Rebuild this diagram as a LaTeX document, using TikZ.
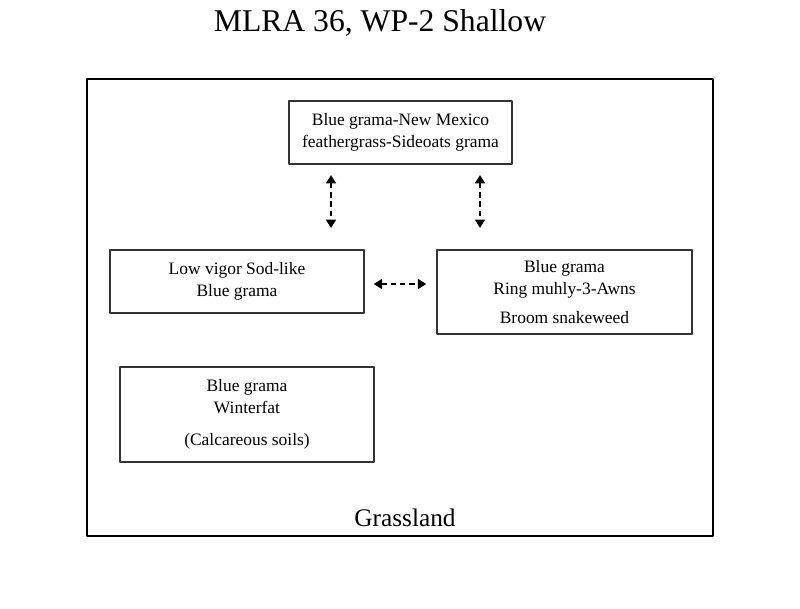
\documentclass[tikz,border=0pt]{standalone}
\usepackage{fontspec}
\setmainfont{Liberation Serif}
\usepackage{tikz}
\usetikzlibrary{arrows.meta}
\newcommand{\BoxColor}{black!80}

\begin{document}
\begin{tikzpicture}[line cap=round,line join=round,x=0.025cm,y=-0.025cm,
  state/.style={draw=\BoxColor,line width=0.9pt,align=center,inner sep=0pt,
    font=\fontsize{12.4}{15.5}\selectfont},
  trans/.style={{Triangle[length=6pt,width=7pt]}-{Triangle[length=6pt,width=7pt]},
    line width=1.7pt,line cap=butt,dash pattern=on 3.8pt off 2.8pt}]
  \useasboundingbox (0,0) rectangle (800,608);
  \node (title) at (380,23) {\fontsize{22.5}{26}\selectfont MLRA 36, WP-2 Shallow};
  \draw [line width=1.9pt] (87,79) rectangle (713,536);
  \node (grass) at (405,518) {\fontsize{18}{21}\selectfont Grassland};
  \node [state,minimum width=5.575cm,minimum height=1.575cm] (top) at (400.5,132.5)
    {Blue grama-New Mexico\\feathergrass-Sideoats grama};
  \node [state,minimum width=6.35cm,minimum height=1.575cm] (sod) at (237,281.5)
    {Low vigor Sod-like\\Blue grama};
  \node [state,minimum width=6.375cm,minimum height=2.1cm] (ring) at (564.5,292)
    {Blue grama\\Ring muhly-3-Awns\\[5pt]Broom snakeweed};
  \node [state,minimum width=6.35cm,minimum height=2.375cm] (winter) at (247,414.5)
    {Blue grama\\Winterfat\\[7pt](Calcareous soils)};
  % transition arrows
  \coordinate (t1) at (331,175);
  \coordinate (t2) at (480,175);
  \coordinate (s1) at (331,228);
  \coordinate (s2) at (480,228);
  \draw [trans] (t1) -- (s1);
  \draw [trans] (t2) -- (s2);
  \draw [trans] ([xshift=0.225cm]sod.east |- 0,284) -- ([xshift=-0.25cm]ring.west |- 0,284);
\end{tikzpicture}
\end{document}
